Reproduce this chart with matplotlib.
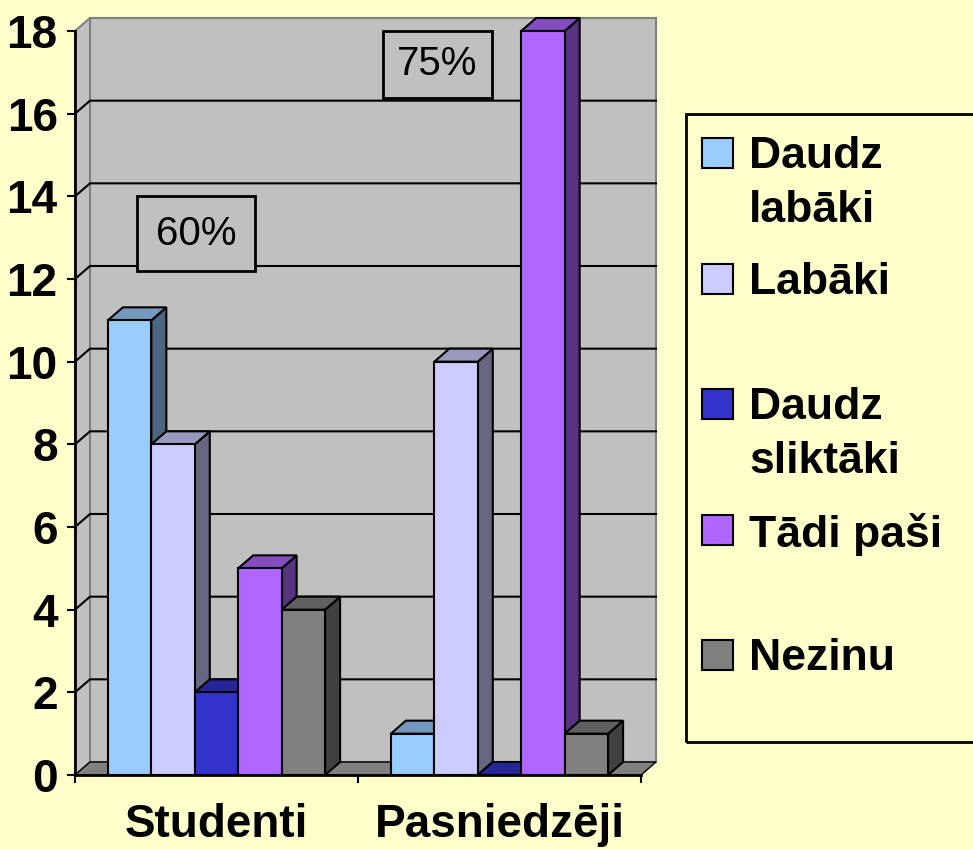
import matplotlib.pyplot as plt
from matplotlib.patches import Rectangle, Polygon
from matplotlib.colors import to_rgb

# data
categories = ['Studenti', 'Pasniedzēji']
series = ['Daudz\nlabāki', 'Labāki', 'Daudz\nsliktāki', 'Tādi paši', 'Nezinu']
daudz_labaki = [11, 1]
labaki = [8, 10]
daudz_sliktaki = [2, 0]
tadi_pasi = [5, 18]
nezinu = [4, 1]
values = [daudz_labaki, labaki, daudz_sliktaki, tadi_pasi, nezinu]
colors = ['#99CCFF', '#CCCCFF', '#3333CC', '#B066FF', '#808080']
y_ticks = list(range(0, 19, 2))
notes = [('60%', -0.072, 13.1, 0.47), ('75%', 0.781, 17.2, 0.36)]

BG = '#FFFFCC'
WALL = '#C0C0C0'
FONT = 'Liberation Sans'


def shade(c, f):
    r, g, b = to_rgb(c)
    return (r * f, g * f, b * f)


fig = plt.figure(figsize=(9.73, 8.49), dpi=100, facecolor=BG)
W, H = 973, 849
ax = fig.add_axes([75 / W, 74 / H, 566 / W, 744 / H])
ax.set_xlim(-0.5, 1.5)
ax.set_ylim(0, 18)
ax.patch.set_visible(False)

# depth of the 3d box in data units (15 px right, 13 px up)
ax_w = ax.get_position().width * W
ax_h = ax.get_position().height * H
ddx = 15 * 2.0 / ax_w
ddy = 13 * 18.0 / ax_h

# walls
ax.add_patch(Rectangle((-0.5 + ddx, ddy), 2, 18, fc=WALL, ec='#808080', lw=1.5,
                       clip_on=False, zorder=0))
ax.add_patch(Polygon([(-0.5, 0), (-0.5, 18), (-0.5 + ddx, 18 + ddy), (-0.5 + ddx, ddy)],
                     closed=True, fc=WALL, ec='#808080', lw=1.5, clip_on=False, zorder=0.5))
for v in y_ticks[1:-1]:
    ax.plot([-0.5, -0.5 + ddx, 1.5 + ddx], [v, v + ddy, v + ddy], color='black', lw=1.5,
            clip_on=False, zorder=1)
ax.add_patch(Polygon([(-0.5, 0), (1.5, 0), (1.5 + ddx, ddy), (-0.5 + ddx, ddy)],
                     closed=True, fc='#808080', ec='black', lw=1, clip_on=False, zorder=1.5))

# 3d bars
w = 0.1535
z = 2
for i in range(len(categories)):
    for j, vals in enumerate(values):
        h = vals[i]
        x0 = i + (j - 2) * w - w / 2
        x1 = x0 + w
        c = colors[j]
        ax.add_patch(Polygon([(x1, 0), (x1 + ddx, ddy), (x1 + ddx, h + ddy), (x1, h)],
                             closed=True, fc=shade(c, 0.5), ec='black', lw=1.5,
                             clip_on=False, zorder=z))
        ax.add_patch(Polygon([(x0, h), (x1, h), (x1 + ddx, h + ddy), (x0 + ddx, h + ddy)],
                             closed=True, fc=shade(c, 0.75), ec='black', lw=1.5,
                             clip_on=False, zorder=z))
        ax.add_patch(Rectangle((x0, 0), w, h, fc=c, ec='black', lw=1.5,
                               clip_on=False, zorder=z + 0.1))
        z += 0.2

# percentage boxes
for txt, x, y, p in notes:
    ax.text(x, y, txt, fontsize=29, family=FONT, ha='center', va='center', zorder=10,
            bbox=dict(boxstyle='square,pad=%s' % p, fc=WALL, ec='black', lw=2))

# axes
for s in ['top', 'right']:
    ax.spines[s].set_visible(False)
for s in ['left', 'bottom']:
    ax.spines[s].set_linewidth(2)
    ax.spines[s].set_zorder(20)
ax.set_yticks(y_ticks)
ax.set_yticklabels([str(t) for t in y_ticks], fontsize=33, fontweight='bold', family=FONT)
ax.tick_params(axis='y', length=6, width=1.5, pad=6.5)
ax.set_xticks([-0.5, 0.5, 1.5])
ax.set_xticklabels([])
ax.tick_params(axis='x', which='major', length=6, width=1.5)
ax.set_xticks([0, 1], minor=True)
ax.set_xticklabels(categories, minor=True, fontsize=33, fontweight='bold', family=FONT)
ax.tick_params(axis='x', which='minor', length=0, pad=20)

# legend
fig.add_artist(Rectangle((686 / W, 1 - 742 / H), 300 / W, (742 - 114) / H, fill=False,
                         ec='black', lw=2, transform=fig.transFigure))
for k, lab in enumerate(series):
    top = 138 + 125.5 * k
    fig.add_artist(Rectangle((702 / W, 1 - (top + 30) / H), 31 / W, 30 / H, fc=colors[k],
                             ec='black', lw=1.5, transform=fig.transFigure))
    fig.text(749 / W, 1 - (top - 2) / H, lab, fontsize=32, fontweight='bold', family=FONT,
             ha='left', va='top', linespacing=1.4)

fig.savefig('out.png', dpi=100, facecolor=BG)
